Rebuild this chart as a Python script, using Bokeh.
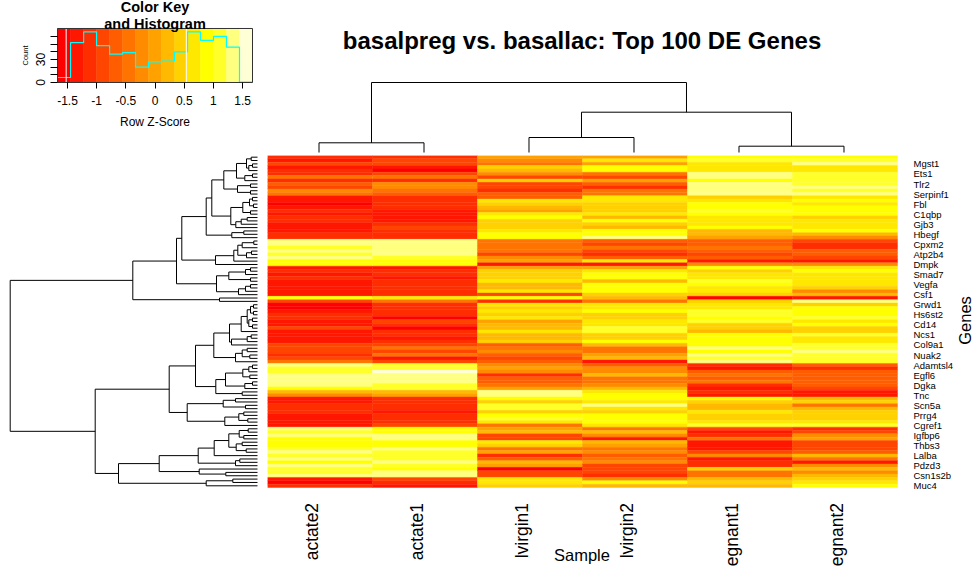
from math import pi
from bokeh.core.properties import value
from bokeh.embed import file_html
from bokeh.layouts import column, row
from bokeh.models import ColumnDataSource, FixedTicker, Label, LabelSet, LinearAxis, Range1d
from bokeh.plotting import figure
from bokeh.resources import INLINE

FONT = "Liberation Sans"

# colour key: R heat.colors(15), z-score span, histogram counts per bin
key_colors = ["#FF0000", "#FF1700", "#FF2E00", "#FF4600", "#FF5D00", "#FF7400", "#FF8B00", "#FFA200",
              "#FFB900", "#FFD100", "#FFE800", "#FFFF00", "#FFFF2A", "#FFFF80", "#FFFFD5"]
key_edges = [-1.67, -1.447, -1.224, -1.002, -0.779, -0.557, -0.334, -0.111,
             0.111, 0.334, 0.557, 0.779, 1.002, 1.224, 1.447, 1.67]
key_counts = [6.5, 52, 66, 48, 37, 39, 20, 27, 28, 40, 66, 55, 60, 46, 0.5]
key_marks = [-1.523, 0.536]
key_top = 70.4

samples = ["actate2", "actate1", "lvirgin1", "lvirgin2", "egnant1", "egnant2"]
genes = ["Mgst1", "Ets1", "Tlr2", "Serpinf1", "Fbl", "C1qbp", "Gjb3", "Hbegf", "Cpxm2", "Atp2b4", "Dmpk",
         "Smad7", "Vegfa", "Csf1", "Grwd1", "Hs6st2", "Cd14", "Ncs1", "Col9a1", "Nuak2", "Adamtsl4", "Egfl6",
         "Dgka", "Tnc", "Scn5a", "Prrg4", "Cgref1", "Igfbp6", "Thbs3", "Lalba", "Pdzd3", "Csn1s2b", "Muc4"]

# key-bin index of every heatmap cell, by sample, top row first
lactate2 = [2, 1, 3, 1, 2, 2, 5, 2, 4, 3,
            6, 5, 1, 1, 0, 1, 2, 1, 2, 2,
            1, 1, 1, 2, 2, 13, 13, 12, 13, 12,
            13, 11, 11, 1, 2, 1, 2, 1, 1, 1,
            1, 1, 11, 3, 0, 0, 1, 2, 2, 1,
            1, 3, 1, 1, 1, 1, 3, 3, 3, 2,
            3, 5, 13, 12, 12, 13, 13, 13, 13, 11,
            8, 6, 1, 1, 2, 2, 2, 1, 1, 1,
            1, 13, 12, 13, 11, 11, 11, 12, 13, 12,
            13, 11, 13, 12, 12, 13, 1, 0, 2]
lactate1 = [2, 3, 3, 1, 0, 3, 5, 2, 6, 6,
            5, 4, 2, 2, 2, 2, 1, 1, 1, 1,
            2, 3, 2, 2, 2, 13, 13, 13, 13, 13,
            12, 11, 11, 1, 2, 2, 1, 2, 2, 2,
            2, 2, 10, 5, 2, 2, 2, 2, 0, 3,
            2, 0, 2, 2, 1, 2, 3, 5, 3, 5,
            1, 3, 12, 12, 14, 13, 13, 13, 12, 12,
            8, 7, 2, 2, 2, 2, 1, 2, 2, 2,
            3, 11, 11, 13, 13, 11, 11, 13, 12, 12,
            12, 13, 12, 11, 13, 13, 3, 2, 1]
virgin1 = [7, 6, 5, 9, 8, 6, 3, 9, 3, 3,
           2, 4, 4, 10, 9, 8, 7, 10, 11, 9,
           9, 9, 10, 11, 11, 5, 5, 5, 5, 3,
           6, 7, 1, 7, 9, 9, 9, 10, 8, 8,
           10, 3, 11, 2, 10, 9, 10, 9, 10, 7,
           8, 8, 10, 8, 8, 9, 4, 5, 6, 4,
           3, 4, 6, 7, 6, 2, 4, 4, 5, 7,
           13, 13, 11, 9, 12, 12, 9, 11, 12, 10,
           5, 7, 8, 3, 3, 10, 9, 5, 7, 2,
           4, 8, 7, 0, 3, 3, 10, 10, 9]
virgin2 = [7, 10, 7, 11, 11, 5, 3, 7, 4, 2,
           5, 5, 10, 10, 9, 9, 9, 10, 8, 11,
           9, 8, 11, 11, 13, 4, 3, 5, 3, 2,
           4, 10, 1, 7, 10, 11, 11, 8, 11, 11,
           11, 9, 8, 5, 10, 10, 11, 9, 9, 10,
           10, 12, 12, 9, 9, 11, 8, 5, 5, 7,
           8, 1, 4, 6, 6, 8, 5, 5, 6, 8,
           10, 11, 11, 10, 13, 10, 9, 11, 11, 11,
           10, 5, 8, 6, 1, 8, 7, 5, 6, 4,
           5, 6, 3, 3, 3, 2, 6, 11, 8]
pregnant1 = [11, 12, 10, 10, 10, 13, 13, 11, 13, 13,
             13, 13, 9, 10, 11, 11, 12, 11, 10, 10,
             10, 11, 8, 8, 7, 4, 4, 5, 4, 3,
             4, 1, 6, 11, 9, 10, 10, 12, 11, 10,
             10, 9, 0, 9, 10, 10, 12, 12, 11, 12,
             9, 9, 8, 11, 11, 11, 11, 13, 11, 13,
             12, 13, 2, 1, 4, 5, 4, 5, 2, 1,
             2, 1, 11, 9, 8, 8, 10, 9, 9, 10,
             12, 3, 1, 2, 5, 1, 1, 1, 3, 6,
             1, 2, 2, 9, 5, 5, 8, 9, 8]
pregnant2 = [11, 12, 13, 10, 10, 12, 12, 12, 12, 13,
             12, 13, 10, 11, 10, 11, 11, 11, 9, 10,
             10, 10, 11, 8, 6, 3, 2, 2, 4, 4,
             3, 1, 6, 10, 11, 10, 10, 10, 10, 9,
             6, 8, 1, 13, 9, 11, 11, 11, 12, 10,
             11, 9, 9, 12, 10, 10, 12, 12, 13, 12,
             12, 12, 4, 2, 4, 4, 4, 4, 4, 3,
             1, 1, 8, 9, 5, 8, 9, 9, 9, 10,
             12, 2, 3, 6, 7, 3, 3, 3, 4, 8,
             5, 1, 6, 8, 6, 8, 9, 10, 11]
sample_bins = [lactate2, lactate1, virgin1, virgin2, pregnant1, pregnant2]

# dendrograms: (merge height, left child, right child); L is a leaf
L = None
tree_0_7 = (21, (11, (6.3, L, L), (8.7, (5, L, L), L)), (12.7, (5, L, L), L))
tree_8_11 = (20, (7, L, L), (7, L, L))
tree_12_21 = (26.7, (14.7, (8, (5, L, L), (4, L, L)), (7, L, L)), (21.7, (16.3, (10.3, L, L), L), L))
tree_22_24 = (25.7, (13.7, L, L), L)
tree_25_32 = (42, (23.7, (19.7, (15.3, (3.7, L, L), L), (11, (6, L, L), L)), L), L)
tree_33_41 = (41, (28.7, (12, (7, L, L), L), (7, L, L)), (19, (12, (7, L, L), L), L))
tree_42_43 = (38, L, L)
tree_0_43 = (124.7,
             (81, (75.7, (51.3, (45.7, (33.7, tree_0_7, tree_8_11), tree_12_21), tree_22_24), tree_25_32), tree_33_41),
             tree_42_43)
tree_44_61 = (43.7,
              (28, (16.3, (10.3, (7, (4, L, L), (4, L, L)), (8.7, (5, L, L), (5, L, L))), L),
               (26, (10.3, (6.3, L, L), L), L)),
              (22, (15.3, (10.3, L, L), (7.7, L, L)), L))
tree_62_71 = (41.7,
              (32, (14.7, (8.7, (5, L, L), L), (7.7, L, L)), (12.7, (5, L, L), L)),
              (15.3, L, L))
tree_72_80 = (70.3, (34.3, (22, L, L), (12, L, L)), (32.7, (18.7, (13.7, L, L), (9.7, L, L)), L))
tree_81_92 = (59.3,
              (43.3, (28.7, (18.3, (9.3, L, L), (13.7, L, L)), (21.3, (15.3, L, L), (11.3, L, L))), L),
              (22, (17.7, L, L), L))
tree_93_95 = (58.3, L, (31.7, L, L))
tree_96_98 = (51.3, (24.7, L, L), L)
tree_44_98 = (162.3,
              (88.3, (62, tree_44_61, tree_62_71), tree_72_80),
              (139, (98.3, tree_81_92, tree_93_95), tree_96_98))
row_tree = (247.3, tree_0_43, tree_44_98)
col_tree = (70, (9.7, L, L), (40.3, (15, L, L), (6.3, L, L)))


def flatten(tree):
    """Return (position, height) segments of a dendrogram; leaves sit at 0.5, 1.5, ..."""
    segs = []
    next_leaf = [0]

    def walk(node):
        if node is None:
            next_leaf[0] += 1
            return next_leaf[0] - 0.5, 0.0
        h, a, b = node
        pa, ha = walk(a)
        pb, hb = walk(b)
        segs.append((pa, ha, pa, h))
        segs.append((pb, hb, pb, h))
        segs.append((pa, h, pb, h))
        return (pa + pb) / 2, h

    walk(tree)
    return segs


def panel(w, h, xr, yr):
    fig = figure(width=w, height=h, output_backend="svg", toolbar_location=None,
                 x_range=Range1d(*xr), y_range=Range1d(*yr),
                 min_border=0, min_border_left=0, min_border_right=0, min_border_top=0, min_border_bottom=0)
    fig.axis.visible = False
    fig.grid.visible = False
    fig.outline_line_color = None
    return fig


def text(fig, x, y, s, size, bold=False, angle=0.0):
    fig.add_layout(Label(x=x, y=y, text=s, angle=angle, angle_units="rad", text_align="center",
                         text_baseline="middle", text_font=FONT, text_font_style="bold" if bold else "normal",
                         text_font_size=size, text_color="black"))


# ---- colour key ----
key = panel(267, 155, (-2.648, 1.927), (-95.2, 106.9))
key.quad(left=key_edges[:-1], right=key_edges[1:], bottom=0, top=key_top, fill_color=key_colors, line_color=key_colors, line_width=0.5)
key.step(x=key_edges, y=key_counts + key_counts[-1:], mode="after", line_color="#00FFFF", line_width=1.2)
for m in key_marks:
    key.segment(x0=[m], y0=[0], x1=[m], y1=[key_top], line_color="white", line_width=1)
key.quad(left=[key_edges[0]], right=[key_edges[-1]], bottom=[0], top=[key_top], fill_color=None, line_color="#333333", line_width=1)
xt = [-1.5, -1, -0.5, 0, 0.5, 1, 1.5]
key_x = LinearAxis(fixed_location=0, ticker=FixedTicker(ticks=xt), bounds=(-1.67, 1.67),
                   major_label_overrides={v: ("%g" % v) for v in xt},
                   axis_label="Row Z-Score", axis_label_text_font_style="normal", axis_label_text_font=FONT,
                   axis_label_text_font_size="12px", axis_label_standoff=6, axis_label_text_color="black",
                   major_label_text_font=FONT, major_label_text_font_size="12px", major_label_standoff=8,
                   major_label_text_color="black", major_tick_line_color="black",
                   major_tick_out=6, major_tick_in=0, minor_tick_line_color=None, axis_line_color=None)
key.add_layout(key_x, "below")
yt = [0, 10, 20, 30, 40, 50, 60]
key_y = LinearAxis(fixed_location=-1.67, ticker=FixedTicker(ticks=yt), bounds=(0, key_top),
                   major_label_overrides={v: (str(v) if v in (0, 30) else "") for v in yt},
                   major_label_orientation="vertical",
                   axis_label="Count", axis_label_text_font_style="normal", axis_label_text_font=FONT,
                   axis_label_text_font_size="7.5px", axis_label_standoff=3, axis_label_text_color="black",
                   major_label_text_font=FONT, major_label_text_font_size="12px", major_label_standoff=6,
                   major_label_text_color="black", major_tick_line_color="black",
                   major_tick_out=7, major_tick_in=0, minor_tick_line_color=None, axis_line_color=None)
key.add_layout(key_y, "left")
text(key, 0, 99, "Color Key", "14.5px", bold=True)
text(key, 0, 76.5, "and Histogram", "14.5px", bold=True)

# ---- column dendrogram + title ----
top = panel(710, 155, (0.0095, 6.7715), (-3, 152))
c_segs = flatten(col_tree)
top.segment([s[0] for s in c_segs], [s[1] for s in c_segs], [s[2] for s in c_segs], [s[3] for s in c_segs],
            line_color="black", line_width=1)
text(top, 3.005, 112, "basalpreg vs. basallac: Top 100 DE Genes", "24px", bold=True)

# ---- row dendrogram ----
side = panel(267, 412, (257, -10), (122.86, 0))
r_segs = flatten(row_tree)
side.segment([s[1] for s in r_segs], [s[0] for s in r_segs], [s[3] for s in r_segs], [s[2] for s in r_segs],
             line_color="black", line_width=1)

# ---- heatmap ----
heat = panel(710, 412, (0, 6.762), (122.86, 0))
left, right, upper, lower, fill = [], [], [], [], []
for c, values in enumerate(sample_bins):
    for r, b in enumerate(values):
        left.append(c)
        right.append(c + 1)
        upper.append(r)
        lower.append(r + 1)
        fill.append(key_colors[b])
heat.quad(left=left, right=right, top=upper, bottom=lower, fill_color=fill, line_color=fill, line_width=0.4)

gene_ticks = [2.5 + 3 * i for i in range(len(genes))]
axis = LinearAxis(fixed_location=6, ticker=FixedTicker(ticks=gene_ticks),
                  major_label_overrides=dict(zip(gene_ticks, genes)),
                  axis_line_color=None, major_tick_line_color=None, minor_tick_line_color=None,
                  major_tick_out=0, major_tick_in=0,
                  major_label_standoff=16, major_label_text_font=FONT, major_label_text_font_size="9.5px",
                  major_label_text_color="black", major_label_text_baseline="middle")
heat.add_layout(axis, "right")
text(heat, 6.643, 49.2, "Genes", "16.5px", angle=pi / 2)
text(heat, 2.995, 119, "Sample", "16.5px")
names = ColumnDataSource(dict(x=[i + 0.5 for i in range(len(samples))], y=[103.6] * len(samples), text=samples))
heat.add_layout(LabelSet(x="x", y="y", text="text", source=names, x_offset=-8, angle=pi / 2, angle_units="rad",
                         text_align="right", text_baseline="middle", text_font=value(FONT),
                         text_font_size=value("17.5px"), text_color="black"))

page = column(row(key, top, spacing=0), row(side, heat, spacing=0), spacing=0)
open("out.html", "w").write(file_html(page, INLINE))
